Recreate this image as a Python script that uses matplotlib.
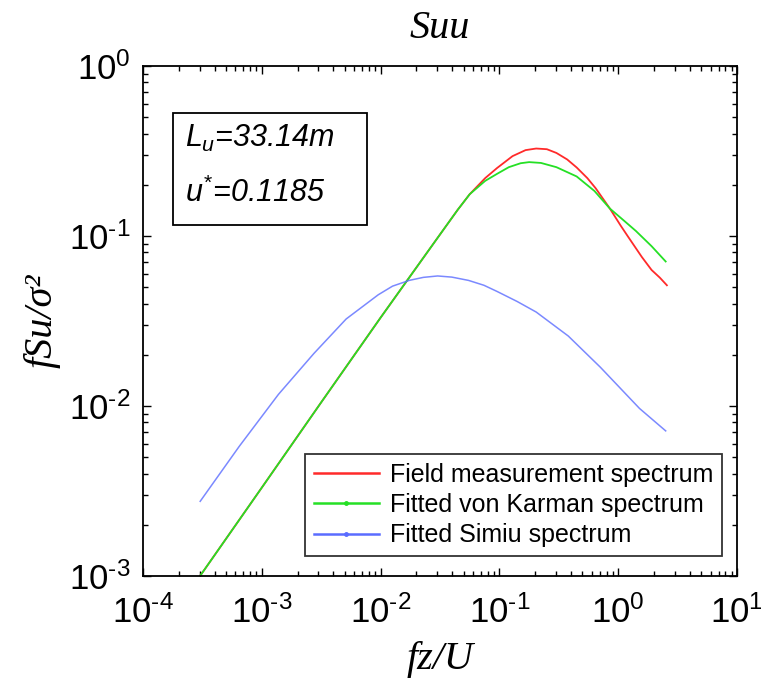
import matplotlib
matplotlib.use("Agg")
import matplotlib.pyplot as plt
from matplotlib.lines import Line2D
from matplotlib.patches import Rectangle
from matplotlib.ticker import LogLocator, NullFormatter, FuncFormatter
import numpy as np

plt.rcParams["font.family"] = "Liberation Sans"
plt.rcParams["mathtext.fontset"] = "custom"
plt.rcParams["mathtext.rm"] = "Liberation Sans"
plt.rcParams["mathtext.it"] = "Liberation Sans:italic"

# measured spectrum
f_field = [3.02e-4, 1e-3, 3.16e-3, 0.01, 0.0178, 0.0316, 0.0447, 0.0562, 0.0759, 0.0955,
           0.129, 0.166, 0.204, 0.251, 0.302, 0.372, 0.447, 0.550, 0.646, 0.851,
           1.05, 1.20, 1.58, 1.91, 2.24, 2.57]
s_field = [0.001, 0.00331, 0.0105, 0.0331, 0.0582, 0.102, 0.143, 0.176, 0.219, 0.251,
           0.295, 0.320, 0.327, 0.324, 0.308, 0.282, 0.253, 0.219, 0.191, 0.145,
           0.115, 0.100, 0.0753, 0.0631, 0.0569, 0.0513]

# von Karman fit
f_vk = [3.02e-4, 1e-3, 3.16e-3, 0.01, 0.0178, 0.0316, 0.0447, 0.0562, 0.0759, 0.0955,
        0.120, 0.151, 0.178, 0.224, 0.302, 0.447, 0.631, 0.851, 1.12, 1.41, 1.91, 2.51]
s_vk = [0.001, 0.00331, 0.0105, 0.0331, 0.0582, 0.102, 0.143, 0.176, 0.211, 0.232,
        0.254, 0.268, 0.272, 0.269, 0.254, 0.224, 0.184, 0.145, 0.123, 0.107, 0.0871, 0.0708]

# Simiu fit
f_simiu = [3.03e-4, 6.46e-4, 1.38e-3, 2.75e-3, 5.13e-3, 9.55e-3, 0.0126, 0.0174, 0.0229,
           0.0302, 0.0398, 0.0550, 0.0741, 0.0955, 0.141, 0.204, 0.380, 0.708, 1.51, 2.51]
s_simiu = [2.75e-3, 5.79e-3, 0.0117, 0.0204, 0.0325, 0.0451, 0.0507, 0.0548, 0.0571,
           0.0582, 0.0573, 0.0548, 0.0513, 0.0472, 0.0412, 0.0357, 0.0258, 0.0169,
           0.00968, 0.00714]

labels = ["Field measurement spectrum", "Fitted von Karman spectrum", "Fitted Simiu spectrum"]
colors = ["#ff2a2a", "#25e025", "#5a6cff"]
fit_text = ["$L_u$=33.14m", "$u^{*}$=0.1185"]


def pow10(v, pos):
    e = int(round(np.log10(v)))
    sup = r"\text{-}%d" % -e if e < 0 else "%d" % e
    return "10$^{%s}$" % sup


fig = plt.figure(figsize=(7.61, 6.80), dpi=100)
ax = fig.add_axes([143 / 761, 104 / 680, 594 / 761, 510 / 680])

ax.plot(f_field, s_field, color=colors[0], lw=1.3)
ax.plot(f_vk, s_vk, color=colors[1], lw=1.3)
ax.plot(f_simiu, s_simiu, color=colors[2], lw=1.1, alpha=0.8)

ax.set_xscale("log")
ax.set_yscale("log")
ax.set_xlim(1e-4, 1e1)
ax.set_ylim(1e-3, 1e0)

for axis in (ax.xaxis, ax.yaxis):
    axis.set_major_locator(LogLocator(base=10, numticks=10))
    axis.set_minor_locator(LogLocator(base=10, subs=range(2, 10), numticks=20))
    axis.set_major_formatter(FuncFormatter(pow10))
    axis.set_minor_formatter(NullFormatter())
ax.tick_params(which="both", direction="in", top=True, right=True, width=1.0)
ax.tick_params(which="major", length=6, labelsize=25)
ax.tick_params(axis="x", which="major", pad=14)
ax.tick_params(axis="y", which="major", pad=9)
ax.tick_params(which="minor", length=3.5)
for sp in ax.spines.values():
    sp.set_linewidth(1.3)

serif = {"family": "Liberation Serif", "style": "italic", "size": 29}
ax.set_title("Suu", fontdict=serif, pad=20)
ax.set_xlabel("fz/U", fontdict=serif, labelpad=8)
ax.set_ylabel("fSu/σ²", fontdict=serif, labelpad=6)

# parameter box
ax.add_patch(Rectangle((0.0505, 0.688), 0.3266, 0.2196, transform=ax.transAxes,
                       facecolor="white", edgecolor="black", lw=1.3, zorder=4))
ax.text(0.0707, 0.841, fit_text[0], transform=ax.transAxes, fontsize=22,
        style="italic", va="baseline", ha="left", zorder=5)
ax.text(0.0707, 0.733, fit_text[1], transform=ax.transAxes, fontsize=22,
        style="italic", va="baseline", ha="left", zorder=5)

handles = [Line2D([], [], color=colors[0], lw=1.8),
           Line2D([], [], color=colors[1], lw=1.8, marker=".", ms=5),
           Line2D([], [], color=colors[2], lw=1.8, marker=".", ms=5)]
leg = ax.legend(handles, labels, loc="lower right", bbox_to_anchor=(0.975, 0.039),
                fontsize=18, frameon=True, fancybox=False, borderaxespad=0,
                handlelength=2.6, handletextpad=0.45, labelspacing=0.25, borderpad=0.35)
leg.get_frame().set_edgecolor("black")
leg.get_frame().set_linewidth(1.3)

fig.savefig("out.png", dpi=100)
